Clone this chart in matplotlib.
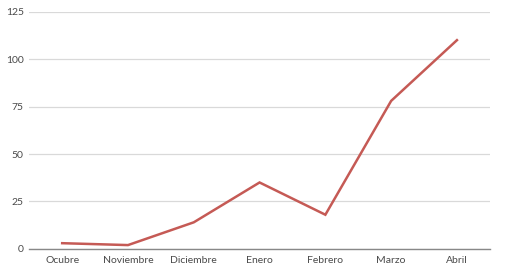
import numpy as np
import matplotlib.pyplot as plt

# data
months = ['Ocubre', 'Noviembre', 'Diciembre', 'Enero', 'Febrero', 'Marzo', 'Abril']
values = [3, 2, 14, 35, 18, 78, 110]
y_ticks = [0, 25, 50, 75, 100, 125]

plt.rcParams['font.family'] = ['Lato', 'DejaVu Sans']

fig = plt.figure(figsize=(5.05, 2.72), dpi=100)
ax = fig.add_axes([0.058, 0.085, 0.912, 0.872])

x = np.arange(len(months))
ax.plot(x, values, color='#C55A55', linewidth=1.8, solid_joinstyle='miter')

ax.set_xlim(-0.5, len(months) - 0.5)
ax.set_ylim(0, 125)
ax.set_yticks(y_ticks)
ax.set_xticks(x)
ax.set_xticklabels(months)

ax.grid(axis='y', color='#D9D9D9', linewidth=0.9)
ax.set_axisbelow(True)
for side in ['top', 'right', 'left']:
    ax.spines[side].set_visible(False)
ax.spines['bottom'].set_color('#888888')
ax.spines['bottom'].set_linewidth(1.0)
ax.spines['bottom'].set_zorder(1)

ax.tick_params(axis='both', length=0, labelsize=7.5, colors='#4A4A4A')
ax.tick_params(axis='x', pad=5)
ax.tick_params(axis='y', pad=4)

fig.savefig('out.png', dpi=100)
